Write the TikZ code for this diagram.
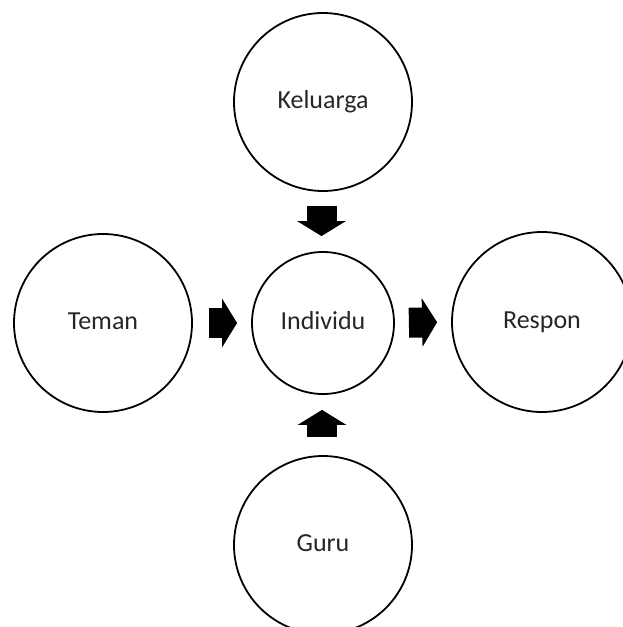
\documentclass[tikz,border=0pt]{standalone}
\usepackage{fontspec}
\setmainfont{Carlito}
\usetikzlibrary{arrows.meta}
\definecolor{txt}{RGB}{38,38,38}
\tikzset{
  bub/.style={circle, draw=black, line width=1.8pt, inner sep=0pt, minimum size=#1, font=\fontsize{26}{30}\selectfont, text=txt, text height=17pt, text depth=4pt},
  blk/.style={line width=30pt, -{Triangle[length=15pt,width=48pt]}}
}
\begin{document}
\begin{tikzpicture}[x=1pt,y=-1pt]
\useasboundingbox (0,0) rectangle (623,627);
\clip (0,0) rectangle (623,627);
\node[bub=178pt] (kel) at (323,102) {Keluarga};
\node[bub=178pt] (tem) at (103,323) {Teman};
\node[bub=142pt] (ind) at (323,323) {Individu};
\node[bub=180pt] (res) at (542,322) {Respon};
\node[bub=178pt] (guru) at (323,545) {Guru};
\draw[blk, shorten <=14pt, shorten >=15pt] ([xshift=-1.5pt]kel.south) -- ([xshift=-1.5pt]ind.north);
\draw[blk, shorten <=16pt, shorten >=14pt] (tem.east) -- (ind.west);
\draw[blk, shorten <=14pt, shorten >=14pt] (ind.east) -- (res.west);
\draw[blk, shorten <=18pt, shorten >=15pt] ([xshift=-1pt]guru.north) -- ([xshift=-1pt]ind.south);
\end{tikzpicture}
\end{document}
